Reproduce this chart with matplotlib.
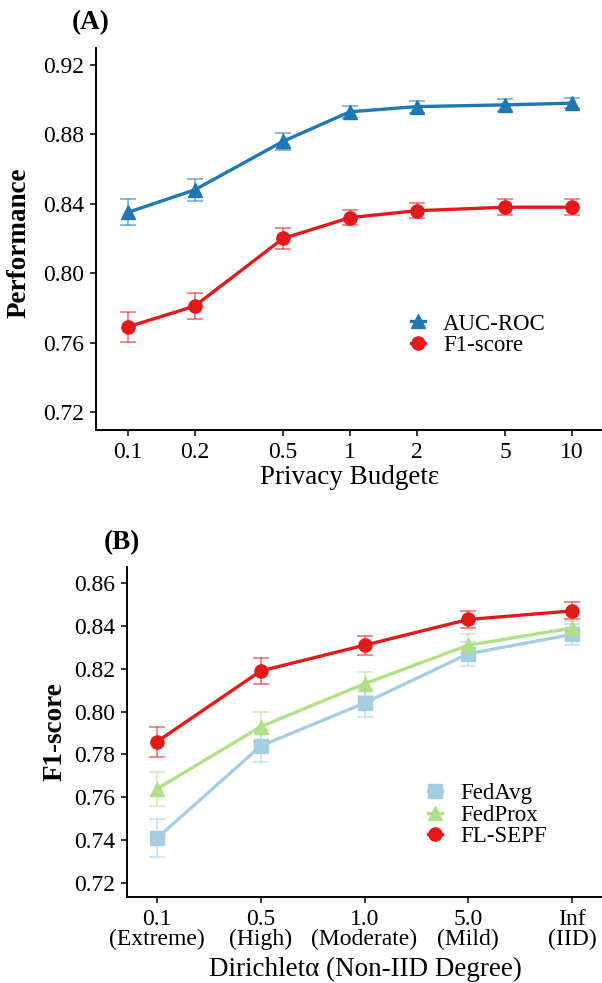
import numpy as np
import matplotlib
matplotlib.use("Agg")
import matplotlib.pyplot as plt

plt.rcParams['font.family'] = ['Liberation Serif', 'DejaVu Serif']

# Panel A data: privacy budget sweep
eps = [0.1, 0.2, 0.5, 1, 2, 5, 10]
eps_labels = ['0.1', '0.2', '0.5', '1', '2', '5', '10']
auc = [0.835, 0.848, 0.876, 0.893, 0.896, 0.897, 0.898]
auc_err = [0.0075, 0.0065, 0.005, 0.0035, 0.0035, 0.0035, 0.003]
f1 = [0.769, 0.781, 0.820, 0.832, 0.836, 0.838, 0.838]
f1_err = [0.0087, 0.0075, 0.006, 0.0045, 0.0045, 0.0045, 0.0045]

# Panel B data: Dirichlet alpha sweep
alpha_labels = ['0.1\n(Extreme)', '0.5\n(High)', '1.0\n(Moderate)', '5.0\n(Mild)', 'Inf\n(IID)']
fedavg = [0.741, 0.784, 0.804, 0.827, 0.836]
fedavg_err = [0.009, 0.0075, 0.0065, 0.0055, 0.005]
fedprox = [0.764, 0.793, 0.813, 0.831, 0.839]
fedprox_err = [0.008, 0.007, 0.0055, 0.005, 0.0035]
flsepf = [0.786, 0.819, 0.831, 0.843, 0.847]
flsepf_err = [0.007, 0.006, 0.0045, 0.004, 0.004]

C_BLUE = '#1f78b4'
C_RED = '#e31a1c'
C_LBLUE = '#a6cee3'
C_GREEN = '#b2df8a'

TICK_FS = 17
LABEL_FS = 19.5
LEG_FS = 16.5


def style(ax):
    for s in ['top', 'right']:
        ax.spines[s].set_visible(False)
    for s in ['left', 'bottom']:
        ax.spines[s].set_linewidth(1.4)
    ax.tick_params(axis='both', direction='out', length=4.5, width=1.1,
                   labelsize=TICK_FS, pad=4)


def series(ax, x, y, err, color, marker, label):
    ax.errorbar(x, y, yerr=err, fmt='none', ecolor=color, alpha=0.55,
                elinewidth=1.3, capsize=6, capthick=1.3, zorder=2)
    ax.plot(x, y, color=color, marker=marker, ms=9.5, lw=2.4,
            label=label, zorder=3)


def legend(ax, anchor):
    ax.legend(loc='center left', bbox_to_anchor=anchor,
              bbox_transform=fig.transFigure, frameon=False, fontsize=LEG_FS,
              handlelength=0.6, handletextpad=0.8, labelspacing=0.0,
              borderpad=0, borderaxespad=0)


fig = plt.figure(figsize=(6.02, 9.83), dpi=100)

# ---- (A)
ax1 = fig.add_axes([0.1588, 0.5626, 0.8412, 0.3886])
style(ax1)
series(ax1, eps, auc, auc_err, C_BLUE, '^', 'AUC-ROC')
series(ax1, eps, f1, f1_err, C_RED, 'o', 'F1-score')
ax1.set_xscale('log')
ax1.set_xlim(0.0716, 13.65)
ax1.set_xticks(eps)
ax1.set_xticklabels(eps_labels)
ax1.minorticks_off()
ax1.set_ylim(0.7096, 0.9298)
ya = np.arange(0.72, 0.921, 0.04)
ax1.set_yticks(ya)
ax1.set_yticklabels(['%.2f' % v for v in ya])
ax1.set_ylabel('Performance', fontsize=LABEL_FS, fontweight='bold')
ax1.yaxis.label.set_va('center')
ax1.yaxis.set_label_coords(-0.151, 0.49)
ax1.set_xlabel('Privacy Budget\u03b5', fontsize=LABEL_FS)
ax1.xaxis.label.set_va('center')
ax1.xaxis.set_label_coords(0.502, -0.1257)
legend(ax1, (0.683, 0.6597))
fig.text(0.151, 0.9766, '(A)', fontsize=LABEL_FS, fontweight='bold',
         ha='center', va='center')

# ---- (B)
ax2 = fig.add_axes([0.211, 0.0875, 0.789, 0.3357])
style(ax2)
xb = np.arange(len(alpha_labels))
series(ax2, xb, fedavg, fedavg_err, C_LBLUE, 's', 'FedAvg')
series(ax2, xb, fedprox, fedprox_err, C_GREEN, '^', 'FedProx')
series(ax2, xb, flsepf, flsepf_err, C_RED, 'o', 'FL-SEPF')
ax2.set_xlim(-0.29, 4.29)
ax2.set_xticks(xb)
ax2.set_xticklabels(alpha_labels, linespacing=0.95)
ax2.set_ylim(0.7135, 0.8675)
yt = np.arange(0.72, 0.861, 0.02)
ax2.set_yticks(yt)
ax2.set_yticklabels(['%.2f' % v for v in yt])
ax2.set_ylabel('F1-score', fontsize=LABEL_FS, fontweight='bold')
ax2.yaxis.label.set_va('center')
ax2.yaxis.set_label_coords(-0.1516, 0.5)
ax2.set_xlabel('Dirichlet\u03b1 (Non-IID Degree)', fontsize=LABEL_FS)
ax2.xaxis.label.set_va('center')
ax2.xaxis.set_label_coords(0.502, -0.221)
legend(ax2, (0.7115, 0.1709))
fig.text(0.2027, 0.4476, '(B)', fontsize=LABEL_FS, fontweight='bold',
         ha='center', va='center')

fig.savefig('out.png', dpi=100)
